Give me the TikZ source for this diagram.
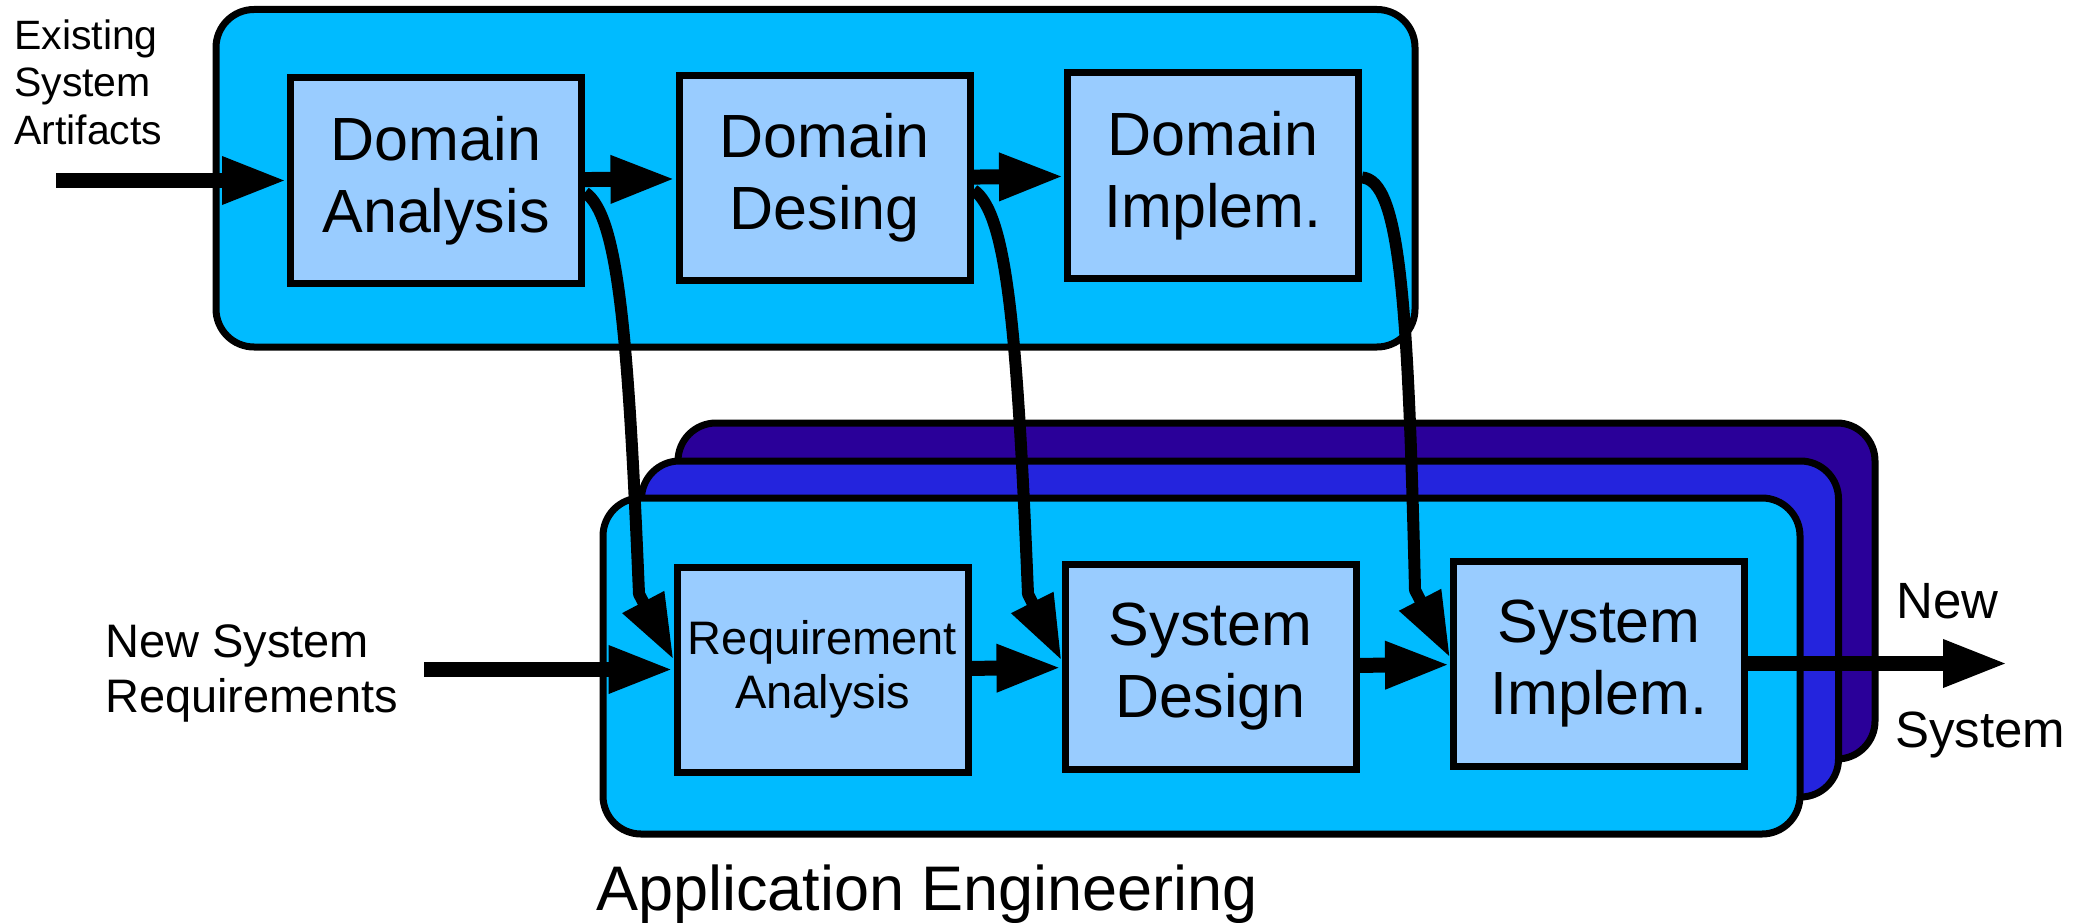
\documentclass[tikz,border=0pt]{standalone}
\usepackage{fontspec}
\setmainfont{Liberation Sans}
\usetikzlibrary{arrows.meta}
\definecolor{domcyan}{RGB}{0,187,255}
\definecolor{stepblue}{RGB}{153,204,255}
\definecolor{layermid}{RGB}{36,36,221}
\definecolor{layerback}{RGB}{42,0,153}

\begin{document}
\begin{tikzpicture}[x=1pt,y=-1pt,
  panel/.style={draw=black, line width=7pt, rounded corners=38pt,
    minimum width=1197pt, minimum height=336pt, inner sep=0pt},
  stepbox/.style={draw=black, fill=stepblue, line width=7pt,
    minimum width=291pt, minimum height=205pt, inner sep=0pt,
    align=center, font=\fontsize{61}{72}\selectfont},
  flow/.style={line width=15pt, -{Triangle[length=65pt,width=44pt]}},
  feed/.style={line width=12pt, line join=round, -{Triangle[length=65pt,width=44pt]}},
  lbl/.style={inner sep=0pt, anchor=base west}
]
\path[use as bounding box] (0,0) rectangle (2082,923);

% domain engineering panel
\node[panel, fill=domcyan, minimum width=1199pt, minimum height=337.5pt] (domain) at (815.5,178.25) {};
\node[stepbox] (DA) at (436,180.5) {Domain\\Analysis};
\node[stepbox] (DD) at (824.5,178) {Domain\\Desing};
\node[stepbox] (DI) at (1213,175.5) {Domain\\Implem.};

% application engineering: stacked panels
\node[panel, fill=layerback] (appback) at (1276.5,591) {};
\node[panel, fill=layermid] (appmid) at (1240,629) {};
\node[panel, fill=domcyan] (appfront) at (1201.5,666) {};

\node[stepbox, font=\fontsize{47}{54}\selectfont] (RA) at (822.5,669.5) {Requirement\\Analysis};
\node[stepbox] (SD) at (1210.5,666.5) {System\\Design};
\node[stepbox] (SI) at (1599,663.5) {System\\Implem.};

% labels
\node[lbl, font=\fontsize{41}{47}\selectfont] (ex1) at (14,50) {Existing};
\node[lbl, font=\fontsize{41}{47}\selectfont] (ex2) at (14,97) {System};
\node[lbl, font=\fontsize{41}{47}\selectfont] (ex3) at (14,145) {Artifacts};
\node[lbl, font=\fontsize{47}{55}\selectfont] (ns1) at (105,657) {New System};
\node[lbl, font=\fontsize{47}{55}\selectfont] (ns2) at (105,712) {Requirements};
\node[lbl, font=\fontsize{51}{60}\selectfont] (out1) at (1896,618) {New};
\node[lbl, font=\fontsize{51}{60}\selectfont] (out2) at (1895,747) {System};
\node[lbl, font=\fontsize{63}{72}\selectfont] (appname) at (596,910) {Application Engineering};

% free ends of the input and output flows
\coordinate (inDomain) at (56,180.5);
\coordinate (inApp) at (424,669.5);
\coordinate (outApp) at (2008,663.5);

% main flows
\draw[flow] (inDomain) -- (DA.west);
\draw[flow] (DA) -- (DD);
\draw[flow] (DD) -- (DI);
\draw[flow] (inApp) -- (RA.west);
\draw[flow] (RA) -- (SD);
\draw[flow] (SD) -- (SI);
\draw[flow] (SI.east) -- (outApp);

% domain results feeding the application steps
\draw[feed] ([yshift=-12pt]DA.east) .. controls (618,215) and (628,330) .. (639,594)
  -- ([yshift=10pt]RA.west);
\draw[feed] ([yshift=-12pt]DD.east) .. controls (1007,213) and (1017,328) .. (1028,594)
  -- ([yshift=6pt]SD.west);
\draw[feed] ([yshift=-2pt]DI.east) .. controls (1400,180) and (1408,300) .. (1415,590)
  -- ([yshift=6pt]SI.west);
\end{tikzpicture}
\end{document}
